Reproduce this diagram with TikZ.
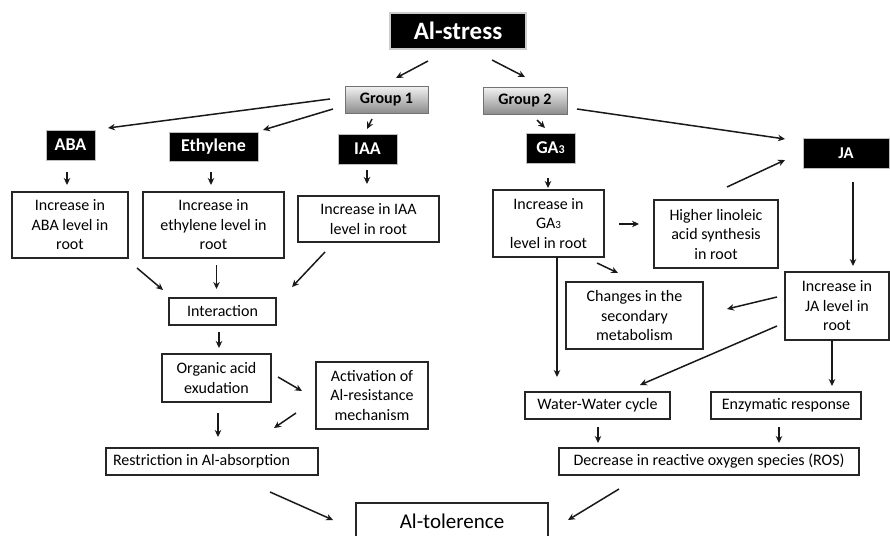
\documentclass[tikz,border=0pt]{standalone}
\usepackage{fontspec}
\setmainfont{Carlito}
\usetikzlibrary{arrows.meta}
\begin{document}
\begin{tikzpicture}[x={(1pt,0pt)}, y={(0pt,-1pt)},
  every node/.style={inner sep=0pt, outer sep=0pt, align=center},
  box/.style={draw=black!85, line width=1.6pt, fill=white, font=\fontsize{16}{19.5}\selectfont},
  hormone/.style={draw=black!25, line width=0.8pt, fill=black, text=white, font=\fontsize{18}{20}\selectfont\bfseries},
  groupbox/.style={draw=black!55, line width=1pt, top color=black!5, bottom color=black!45, font=\fontsize{16}{19}\selectfont\bfseries},
  arr/.style={draw=black!90, line width=1.5pt, -{Stealth[length=7pt,width=6.5pt]}}]
\useasboundingbox (0,0) rectangle (890,535);

% top level
\node[hormone, draw=black!20, line width=1.5pt, minimum width=136pt, minimum height=36pt, font=\fontsize{25}{28}\selectfont\bfseries] (alstress) at (458,31) {Al-stress};
\node[groupbox, minimum width=83pt, minimum height=27pt] (g1) at (386.5,99.5) {Group 1};
\node[groupbox, minimum width=84pt, minimum height=27pt] (g2) at (525,100.5) {Group 2};

% hormones
\node[hormone, minimum width=49pt, minimum height=30pt] (aba) at (70.5,145) {ABA};
\node[hormone, minimum width=89pt, minimum height=29pt] (eth) at (213.5,146.5) {Ethylene};
\node[hormone, minimum width=59pt, minimum height=30pt] (iaa) at (367.5,149) {IAA};
\node[hormone, minimum width=49pt, minimum height=30pt] (ga3) at (550.5,148) {GA{\fontsize{12}{12}\selectfont 3}};
\node[hormone, minimum width=86pt, minimum height=30pt, font=\fontsize{16.5}{18}\selectfont\bfseries] (ja) at (846,153) {JA};

% root level responses
\node[box, minimum width=116pt, minimum height=66pt] (incaba) at (70,225) {Increase in\\ABA level in\\root};
\node[box, minimum width=141pt, minimum height=66pt] (inceth) at (213.5,225) {Increase in\\ethylene level in\\root};
\node[box, minimum width=141pt, minimum height=46pt] (inciaa) at (368.5,219) {Increase in IAA\\level in root};
\node[box, minimum width=111pt, minimum height=67pt] (incga3) at (548.5,223.5) {Increase in\\GA{\fontsize{11}{11}\selectfont 3}\\level in root};
\node[box, minimum width=124pt, minimum height=68pt] (lino) at (716,234) {Higher linoleic\\acid synthesis\\in root};
\node[box, minimum width=104pt, minimum height=68pt] (incja) at (837,306) {Increase in\\JA level in\\root};
\node[box, minimum width=137pt, minimum height=67pt] (chg) at (634.5,315.5) {Changes in the\\secondary\\metabolism};

% group 1 cascade
\node[box, minimum width=107pt, minimum height=27pt] (inter) at (222.5,311.5) {Interaction};
\node[box, minimum width=109pt, minimum height=48pt] (org) at (216.5,378) {Organic acid\\exudation};
\node[box, minimum width=112pt, minimum height=67pt] (act) at (372,395.5) {Activation of\\Al-resistance\\mechanism};
\node[box, minimum width=212pt, minimum height=27pt, text width=198pt, align=flush left] (restr) at (212,461.5) {Restriction in Al-absorption};

% group 2 cascade
\node[box, minimum width=145pt, minimum height=27pt] (ww) at (597.5,405.5) {Water-Water cycle};
\node[box, minimum width=150pt, minimum height=27pt] (enz) at (786,405.5) {Enzymatic response};
\node[box, minimum width=300pt, minimum height=27pt] (ros) at (709,461.5) {Decrease in reactive oxygen species (ROS)};

% outcome
\node[box, minimum width=192pt, minimum height=36pt, font=\fontsize{21}{24}\selectfont] (altol) at (452,521) {Al-tolerence};

% stress to groups
\draw[arr] ([shift={(-30,12)}]alstress.south) -- ([shift={(9.5,-8)}]g1.north);
\draw[arr] ([shift={(34,11)}]alstress.south) -- ([shift={(0,-10)}]g2.north);

% group 1 to hormones
\draw[arr] ([shift={(-15,-0.5)}]g1.west) -- ([shift={(37.5,-2)}]aba.north);
\draw[arr] ([shift={(-12,9.5)}]g1.west) -- ([shift={(49.5,-2)}]eth.north);
\draw[arr] ([shift={(-14.5,6)}]g1.south) -- ([shift={(-0.5,-5)}]iaa.north);

% group 2 to hormones
\draw[arr] ([shift={(12,6)}]g2.south) -- ([shift={(-5.5,-5)}]ga3.north);
\draw[arr] ([shift={(10,8.5)}]g2.east) -- ([shift={(-18,-14)}]ja.west);
\draw[arr] ([shift={(11,-13)}]lino.north) -- ([shift={(-18,7)}]ja.west);
\draw[arr] ([shift={(7,14)}]ja.south) -- ([shift={(16,-6)}]incja.north);

% hormones to root levels
\draw[arr] ([shift={(-3.5,12)}]aba.south) -- ([shift={(-3,-7)}]incaba.north);
\draw[arr] ([shift={(-2.5,11)}]eth.south) -- ([shift={(-2.5,-7)}]inceth.north);
\draw[arr] ([shift={(-0.5,6)}]iaa.south) -- ([shift={(-1.5,-12)}]inciaa.north);
\draw[arr] ([shift={(-2.5,15)}]ga3.south) -- ([shift={(-0.5,-2)}]incga3.north);

% GA3 branch
\draw[arr] ([shift={(15,0.5)}]incga3.east) -- ([shift={(-15,-10)}]lino.west);
\draw[arr] ([shift={(48.5,6)}]incga3.south) -- ([shift={(-16.5,-9)}]chg.north);
\draw[arr] ([shift={(8.5,0)}]incga3.south) -- ([shift={(-40.5,-15)}]ww.north);

% JA branch
\draw[arr] ([shift={(-8,-9)}]incja.west) -- ([shift={(24,-6.5)}]chg.east);
\draw[arr] ([shift={(-8,20)}]incja.west) -- ([shift={(42.5,-7)}]ww.north);
\draw[arr] ([shift={(-5,0)}]incja.south) -- ([shift={(46,-6)}]enz.north);
\draw[arr] ([shift={(0.5,8)}]ww.south) -- ([shift={(-111,-5)}]ros.north);
\draw[arr] ([shift={(-7,8)}]enz.south) -- ([shift={(70,-5)}]ros.north);

% group 1 cascade arrows
\draw[arr] ([shift={(67,10)}]incaba.south) -- ([shift={(-59.5,-8)}]inter.north);
\draw[arr] ([shift={(3,7)}]inceth.south) -- ([shift={(-6,-9)}]inter.north);
\draw[arr] ([shift={(-43.5,10)}]inciaa.south) -- ([shift={(69.5,-11)}]inter.north);
\draw[arr] ([shift={(-3.5,7)}]inter.south) -- ([shift={(2.5,-6)}]org.north);
\draw[arr] ([shift={(7,-1)}]org.east) -- ([shift={(-14,-4.5)}]act.west);
\draw[arr] ([shift={(-20,17.5)}]act.west) -- ([shift={(62,-20)}]restr.north);
\draw[arr] ([shift={(1.5,11)}]org.south) -- ([shift={(6,-11)}]restr.north);

% to tolerance
\draw[arr] ([shift={(58,17)}]restr.south) -- ([shift={(-23,-1)}]altol.west);
\draw[arr] ([shift={(-90,14)}]ros.south) -- ([shift={(116,17)}]altol.north);
\end{tikzpicture}
\end{document}
